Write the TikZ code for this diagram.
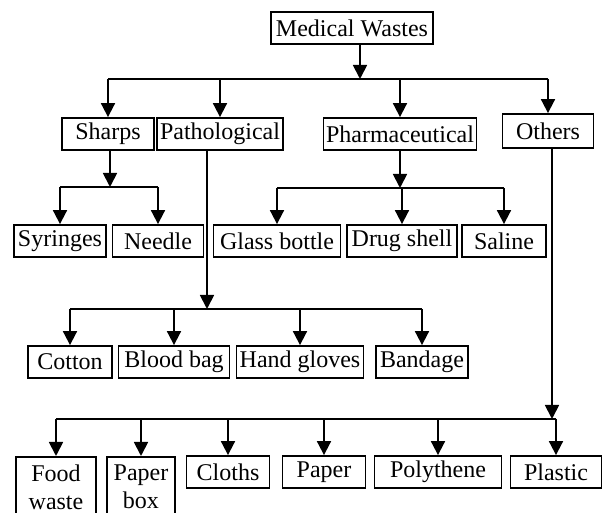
\documentclass[tikz,border=0pt]{standalone}
\usepackage{fontspec}
\setmainfont{Liberation Serif}
\usetikzlibrary{arrows.meta}

\begin{document}
\begin{tikzpicture}[x=0.5pt, y=-0.5pt, font=\fontsize{12}{14}\selectfont,
    box/.style={rectangle, draw, line width=0.9pt, minimum height=16pt, inner sep=1pt},
    arr/.style={-{Triangle[width=7pt, length=7pt]}, line width=0.9pt},
    bar/.style={line width=0.9pt}]
    \useasboundingbox (0,0) rectangle (602,513);

    % Root
    \node [box, minimum width=81pt] (waste) at (352,28) {Medical Wastes};

    % Waste categories
    \node [box, minimum width=46pt] (sharps) at (108,134) {Sharps};
    \node [box, minimum width=63pt] (patho) at (220,134) {Pathological};
    \node [box, minimum width=76.5pt] (pharma) at (400,134) {Pharmaceutical};
    \node [box, minimum width=45.5pt, minimum height=17pt] (others) at (548,131) {Others};

    % Sharps and pharmaceutical items
    \node [box, minimum width=46pt] (syringe) at (60,241) {Syringes};
    \node [box, minimum width=45.5pt] (needle) at (158,241) {Needle};
    \node [box, minimum width=63.5pt] (bottle) at (277,241) {Glass bottle};
    \node [box, minimum width=55pt] (shell) at (402,241) {Drug shell};
    \node [box, minimum width=42pt] (saline) at (504,241) {Saline};

    % Pathological items
    \node [box, minimum width=42pt] (cotton) at (70,362) {Cotton};
    \node [box, minimum width=55.5pt] (blood) at (174,362) {Blood bag};
    \node [box, minimum width=63.5pt] (gloves) at (300,362) {Hand gloves};
    \node [box, minimum width=46pt] (bandage) at (422,362) {Bandage};

    % Other items
    \node [box, minimum width=40pt, minimum height=30pt, anchor=north, align=center] (food) at (56,456) {Food\\waste};
    \node [box, minimum width=34pt, minimum height=30pt, anchor=north, align=center] (pbox) at (141,456) {Paper\\box};
    \node [box, minimum width=41.5pt] (cloth) at (228,472) {Cloths};
    \node [box, minimum width=41.5pt] (paper) at (324,472) {Paper};
    \node [box, minimum width=63.5pt] (poly) at (438,472) {Polythene};
    \node [box, minimum width=45.5pt] (plastic) at (556,472) {Plastic};

    % Junctions
    \coordinate (j0) at (360,79);
    \coordinate (j1) at (110,187);
    \coordinate (j2) at (400,188);
    \coordinate (j3) at (207,309);
    \coordinate (j4) at (552,419);

    % Arrows
    \draw[arr] (waste.south -| j0) -- (j0);
    \draw[bar] (sharps |- j0) -- (others |- j0);
    \foreach \n in {sharps, patho, pharma, others}
        \draw[arr] (\n |- j0) -- (\n);

    \draw[arr] (sharps.south -| j1) -- (j1);
    \draw[bar] (syringe |- j1) -- (needle |- j1);
    \foreach \n in {syringe, needle}
        \draw[arr] (\n |- j1) -- (\n);

    \draw[arr] (pharma.south -| j2) -- (j2);
    \draw[bar] (bottle |- j2) -- (saline |- j2);
    \foreach \n in {bottle, shell, saline}
        \draw[arr] (\n |- j2) -- (\n);

    \draw[arr] (patho.south -| j3) -- (j3);
    \draw[bar] (cotton |- j3) -- (bandage |- j3);
    \foreach \n in {cotton, blood, gloves, bandage}
        \draw[arr] (\n |- j3) -- (\n);

    \draw[arr] (others.south -| j4) -- (j4);
    \draw[bar] (food |- j4) -- (plastic |- j4);
    \foreach \n in {food, pbox, cloth, paper, poly, plastic}
        \draw[arr] (\n |- j4) -- (\n);
\end{tikzpicture}
\end{document}
